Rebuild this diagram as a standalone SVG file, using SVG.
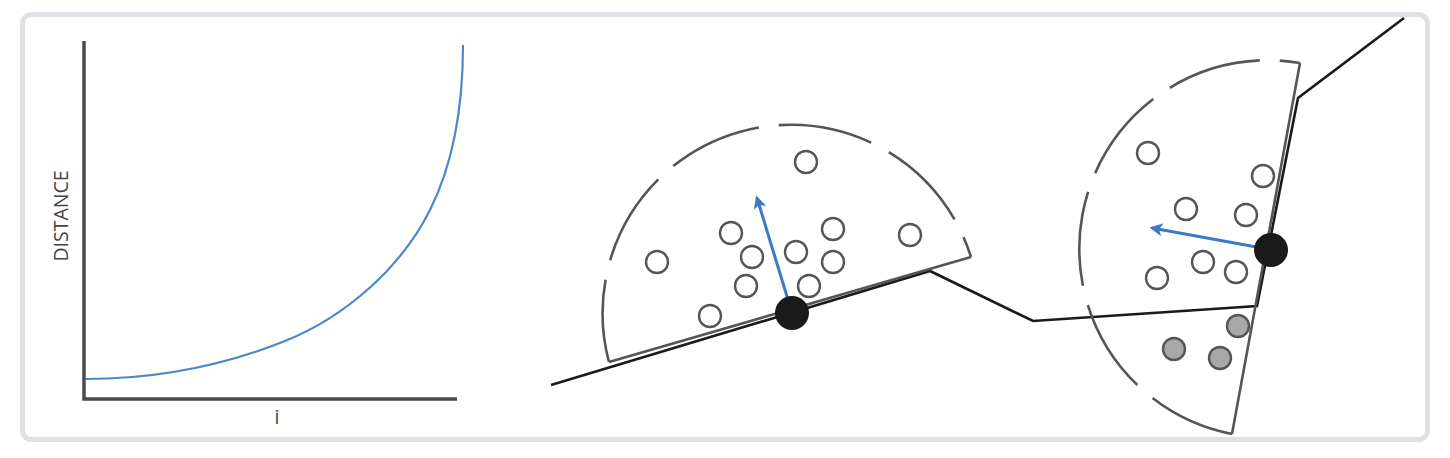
<svg xmlns="http://www.w3.org/2000/svg" width="1450" height="458" viewBox="0 0 1450 458">
  <defs>
    <style>
      .card { fill: #ffffff; stroke: #dde0e5; stroke-width: 5; }
      .axis { stroke: #4a4a4a; stroke-width: 3.5; fill: none; }
      .curve { stroke: #4a88cc; stroke-width: 2.2; fill: none; }
      .lbl { font-family: "Open Sans", "Liberation Sans", sans-serif; font-size: 19.5px; fill: #444444; }
      .arc { stroke: #555555; stroke-width: 2.6; fill: none; stroke-dasharray: 95 20; }
      .edge { stroke: #555555; stroke-width: 2.6; fill: none; }
      .split { stroke: #1a1a1a; stroke-width: 2.6; fill: none; stroke-linejoin: miter; }
      .pt { fill: #ffffff; stroke: #555555; stroke-width: 2.4; }
      .pt2 { fill: #a8a8a8; stroke: #555555; stroke-width: 2.4; }
      .pivot { fill: #1a1a1a; }
      .vec { stroke: #3a79c4; stroke-width: 3; fill: none; }
    </style>
    <marker id="ah" viewBox="0 0 10 10" refX="8" refY="5" markerWidth="13" markerHeight="13" markerUnits="userSpaceOnUse" orient="auto">
      <path d="M0,0 L10,5 L0,10 L2.5,5 z" fill="#3a79c4"/>
    </marker>
  </defs>

  <rect class="card" x="22.5" y="14.5" width="1405" height="425" rx="9" ry="9"/>

  <g id="chart">
    <path class="axis" d="M84,41 L84,399 L457,399"/>
    <path class="curve" d="M86,379 C152,379 219,367.4 285,341 C345,317 401,268 430,210 C455,160 463,101 463,45"/>
    <text class="lbl" transform="translate(68,216) rotate(-90)" text-anchor="middle">DISTANCE</text>
    <text class="lbl" x="277" y="424" text-anchor="middle">i</text>
  </g>

  <g id="connectors">
    <polyline class="split" points="551,385 930,271 1033,321 1257,306 1298,98 1404,18"/>
  </g>

  <g id="cell-left">
    <path class="arc" stroke-dashoffset="12" d="M609,362 A188.5,188.5 0 0 1 971,257"/>
    <line class="edge" x1="609" y1="362" x2="971" y2="257"/>
    <circle class="pt" cx="806" cy="162" r="11"/>
    <circle class="pt" cx="657" cy="262" r="11"/>
    <circle class="pt" cx="731" cy="233" r="11"/>
    <circle class="pt" cx="752" cy="257" r="11"/>
    <circle class="pt" cx="746" cy="286" r="11"/>
    <circle class="pt" cx="710" cy="316" r="11"/>
    <circle class="pt" cx="796" cy="252" r="11"/>
    <circle class="pt" cx="833" cy="229" r="11"/>
    <circle class="pt" cx="833" cy="262" r="11"/>
    <circle class="pt" cx="809" cy="286" r="11"/>
    <circle class="pt" cx="910" cy="235" r="11"/>
    <line class="vec" x1="789" y1="303" x2="757" y2="198" marker-end="url(#ah)"/>
    <circle class="pivot" cx="792" cy="313" r="17"/>
  </g>

  <g id="cell-right">
    <path class="arc" stroke-dashoffset="7" d="M1232,434 A188.6,188.6 0 0 1 1300,63"/>
    <line class="edge" x1="1300" y1="63" x2="1232" y2="434"/>
    <circle class="pt" cx="1148" cy="153" r="11"/>
    <circle class="pt" cx="1263" cy="176" r="11"/>
    <circle class="pt" cx="1186" cy="209" r="11"/>
    <circle class="pt" cx="1246" cy="215" r="11"/>
    <circle class="pt" cx="1203" cy="262" r="11"/>
    <circle class="pt" cx="1236" cy="272" r="11"/>
    <circle class="pt" cx="1157" cy="278" r="11"/>
    <circle class="pt2" cx="1238" cy="326" r="11"/>
    <circle class="pt2" cx="1174" cy="349" r="11"/>
    <circle class="pt2" cx="1220" cy="358" r="11"/>
    <line class="vec" x1="1262" y1="248" x2="1152" y2="228" marker-end="url(#ah)"/>
    <circle class="pivot" cx="1271" cy="250" r="17"/>
  </g>
</svg>
